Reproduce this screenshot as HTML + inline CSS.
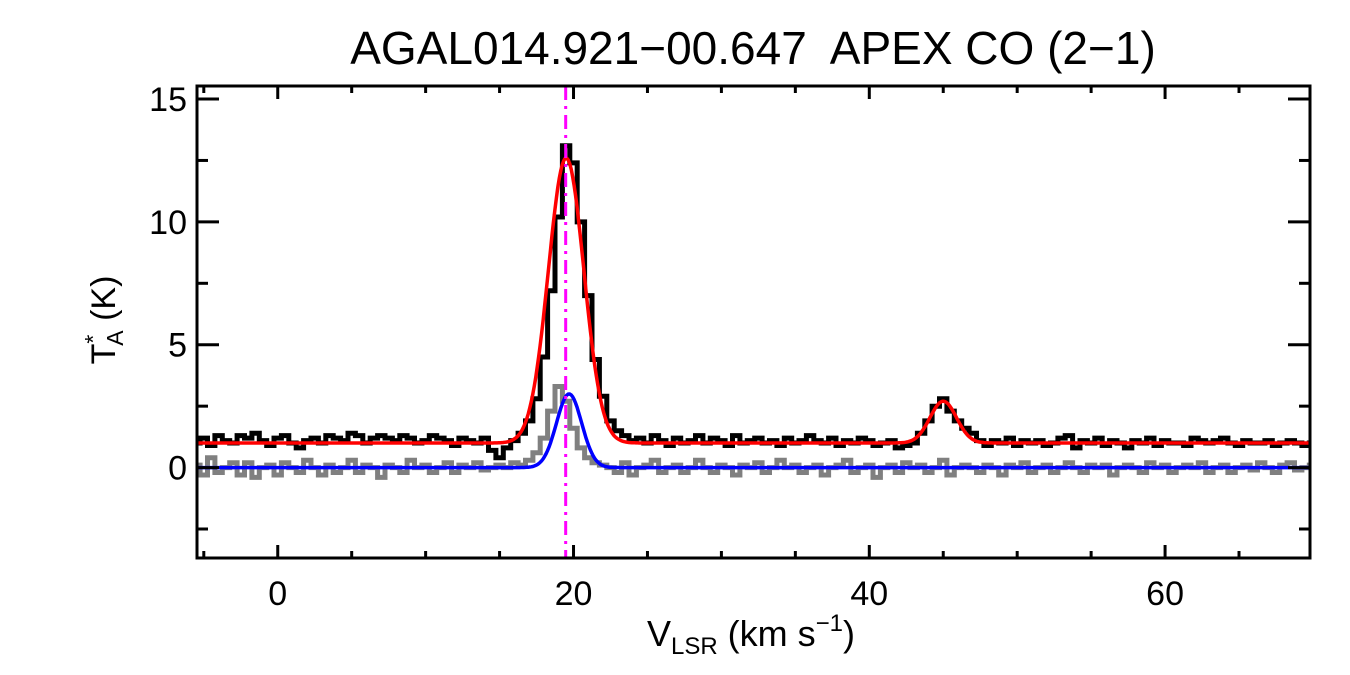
<!DOCTYPE html>
<html><head><meta charset="utf-8"><style>
html,body{margin:0;padding:0;background:#fff;}
svg{display:block;font-family:"Liberation Sans",sans-serif;}
</style></head><body>
<svg id="chart" width="1350" height="675" viewBox="0 0 1350 675"></svg>
<script>
const vStart = -5.5, vStep = 0.5;
const obsSpectrum = [
1.0,1.2,0.9,1.3,1.1,1.0,1.3,1.2,1.4,1.1,0.9,1.2,1.3,1.0,0.8,1.1,1.2,1.0,1.3,1.2,1.1,1.4,1.3,1.0,1.2,1.3,1.2,1.1,1.3,1.2,1.0,1.1,1.3,1.2,1.1,0.9,1.2,1.1,1.0,1.2,
0.7,0.4,0.8,1.1,1.4,1.9,2.8,4.5,7.2,10.2,13.1,12.4,10.0,7.0,4.4,2.9,1.9,1.5,1.3,1.1,
1.2,1.0,1.3,1.1,0.9,1.2,1.0,1.1,1.3,1.0,1.2,1.1,0.9,1.3,1.0,1.1,1.2,1.0,1.1,0.9,1.2,1.0,1.1,1.3,1.1,1.0,1.2,0.9,1.1,1.0,1.2,1.1,0.9,1.0,1.1,0.8,
0.9,1.0,1.4,1.9,2.5,2.8,2.3,1.9,1.6,1.4,1.1,0.9,
1.1,1.0,1.2,0.9,1.1,1.0,1.1,0.9,1.0,1.2,1.3,0.8,1.1,1.0,1.2,0.9,1.1,1.0,0.8,1.1,1.0,1.2,0.9,1.1,1.0,1.0,0.9,1.2,1.1,1.0,1.1,1.2,1.0,0.9,1.1,1.0,1.0,1.1,0.9,1.0,1.1,1.0,0.9,1.0];
const obs2Spectrum = [
0.1,-0.3,0.4,-0.2,0.0,0.2,-0.3,0.2,-0.4,0.0,0.1,-0.3,0.2,0.0,-0.2,0.3,0.0,-0.3,0.1,-0.2,0.0,0.3,-0.2,0.1,0.0,-0.4,0.1,0.0,-0.2,0.3,0.0,0.1,-0.2,0.0,0.2,-0.2,0.1,0.0,0.2,-0.1,0.0,0.1,0.0,0.2,0.1,0.3,
0.6,1.2,2.3,3.3,2.7,1.6,0.8,0.4,0.2,0.1,
0.0,-0.2,0.2,-0.3,0.0,0.1,0.3,-0.2,0.0,0.1,-0.2,0.0,0.3,0.0,-0.2,0.1,0.0,-0.3,0.1,0.0,0.2,-0.2,0.0,0.3,0.0,0.1,-0.2,0.0,0.1,-0.3,0.0,0.1,0.3,-0.2,0.0,0.1,-0.4,0.0,0.1,-0.2,0.2,0.0,0.1,-0.2,0.0,0.3,-0.3,0.0,0.1,0.0,-0.2,0.1,0.0,-0.3,0.1,0.0,0.2,-0.2,0.0,0.1,-0.2,0.0,0.2,0.0,-0.2,0.1,0.0,0.1,-0.3,0.0,0.1,0.0,-0.2,0.2,0.0,0.1,-0.2,0.0,0.1,0.0,0.2,-0.2,0.0,0.1,-0.2,0.0,
0.1,-0.1,0.2,0.0,-0.2,0.1,0.2,-0.1,0.0,0.1];
const redBaseline = [1.0];
const redAmps = [11.6, 1.7];
const redCenters = [19.5, 45.0];
const redSigmas = [1.2, 0.9];
const blueAmps = [3.0];
const blueCenters = [19.7];
const blueSigmas = [0.85];
const markerV = [19.47];
const xTicks = [0, 20, 40, 60];
const yTicks = [0, 5, 10, 15];

const L=197,R=1310,T=86,B=558, xmin=-5.46, xmax=69.8, ymin=-3.68, ymax=15.53;
const X=v=>L+(v-xmin)/(xmax-xmin)*(R-L);
const Y=t=>B-(t-ymin)/(ymax-ymin)*(B-T);
const svg=document.getElementById('chart');
const NS='http://www.w3.org/2000/svg';
function mk(tag,attrs,parent){const e=document.createElementNS(NS,tag);for(const k in attrs)e.setAttribute(k,attrs[k]);(parent||svg).appendChild(e);return e;}
const clip=mk('clipPath',{id:'pc'});mk('rect',{x:L,y:T,width:R-L,height:B-T},clip);

function stepPath(arr){let d='';arr.forEach((t,i)=>{const v=vStart+i*vStep;const x0=X(v-vStep/2),x1=X(v+vStep/2),y=Y(t);d+=(i?'L':'M')+x0.toFixed(1)+','+y.toFixed(1)+'L'+x1.toFixed(1)+','+y.toFixed(1);});return d;}
const g2=mk('path',{d:stepPath(obs2Spectrum),fill:'none',stroke:'#808080','stroke-width':5,'clip-path':'url(#pc)'});


const g1=mk('path',{d:stepPath(obsSpectrum),fill:'none',stroke:'#000','stroke-width':5,'clip-path':'url(#pc)'});



function model(v,base,A,C,S){let s=base;A.forEach((a,i)=>{s+=a*Math.exp(-Math.pow(v-C[i],2)/(2*S[i]*S[i]));});return s;}
function curve(base,A,C,S){let d='';for(let v=xmin;v<=xmax;v+=0.1){d+=(d?'L':'M')+X(v).toFixed(1)+','+Y(model(v,base,A,C,S)).toFixed(1);}return d;}
const rc=mk('path',{d:curve(redBaseline[0],redAmps,redCenters,redSigmas),fill:'none',stroke:'#ff0000','stroke-width':3.5,'clip-path':'url(#pc)'});


const bc=mk('path',{d:curve(0,blueAmps,blueCenters,blueSigmas),fill:'none',stroke:'#0000ff','stroke-width':3.5,'clip-path':'url(#pc)'});


const ml=mk('line',{x1:X(markerV[0]),x2:X(markerV[0]),y1:T,y2:B,stroke:'#ff00ff','stroke-width':3,'stroke-dasharray':'14,6,3,6'});



const fr=mk('rect',{x:L,y:T,width:R-L,height:B-T,fill:'none',stroke:'#000','stroke-width':3});


for(let v=-5;v<=xmax;v+=5){const maj=v%20===0,len=maj?13:7;
 mk('line',{x1:X(v),x2:X(v),y1:B,y2:B-len,stroke:'#000','stroke-width':3});
 mk('line',{x1:X(v),x2:X(v),y1:T,y2:T+len,stroke:'#000','stroke-width':3});}
for(let t=-2.5;t<=ymax;t+=2.5){const maj=t%5===0,len=maj?22:11;
 mk('line',{x1:L,x2:L+len,y1:Y(t),y2:Y(t),stroke:'#000','stroke-width':3});
 mk('line',{x1:R,x2:R-len,y1:Y(t),y2:Y(t),stroke:'#000','stroke-width':3});}
xTicks.forEach(v=>{const t=mk('text',{x:X(v),y:605,'font-size':34,'text-anchor':'middle'});t.textContent=v;
 
 });
yTicks.forEach(v=>{const t=mk('text',{x:187,y:Y(v)+12,'font-size':34,'text-anchor':'end'});t.textContent=v;
 
 });
</script>
<div style="position:absolute;left:0;top:0;width:1350px;height:675px;pointer-events:none">
<svg width="1350" height="675" style="position:absolute;left:0;top:0">
<text x="753" y="64" font-size="46" text-anchor="middle" style="white-space:pre">AGAL014.921−00.647  APEX CO (2−1)</text>
<text x="751" y="646" font-size="36" text-anchor="middle">V<tspan font-size="24" dy="8">LSR</tspan><tspan dy="-8"> (km s</tspan><tspan font-size="24" dy="-15">−1</tspan><tspan dy="15">)</tspan></text>
<g transform="translate(115,320) rotate(-90)"><text x="0" y="0" font-size="34" text-anchor="middle">T<tspan font-size="23" dy="-14">*</tspan><tspan font-size="23" dx="-11" dy="22">A</tspan><tspan dy="-8"> (K)</tspan></text></g>
</svg></div>
</body></html>
